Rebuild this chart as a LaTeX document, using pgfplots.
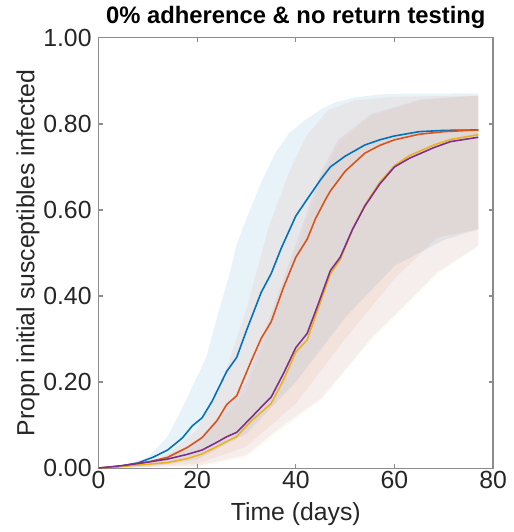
\documentclass[border=0pt]{standalone}
\usepackage{pgfplots}
\pgfplotsset{compat=1.18}
\usepgfplotslibrary{fillbetween}
\usepackage{fontspec}
\setmainfont{Liberation Sans}

\definecolor{mblue}{rgb}{0,0.447,0.741}
\definecolor{morange}{rgb}{0.85,0.325,0.098}
\definecolor{myellow}{rgb}{0.929,0.694,0.125}
\definecolor{mpurple}{rgb}{0.494,0.184,0.556}

\begin{document}
\begin{tikzpicture}
\begin{axis}[
    scale only axis, width=199pt, height=217pt,
    xmin=0, xmax=80, ymin=0, ymax=1,
    xtick={0,20,40,60,80}, ytick={0,0.2,0.4,0.6,0.8,1},
    yticklabel style={/pgf/number format/.cd, fixed, fixed zerofill, precision=2},
    /pgf/number format/assume math mode=true,
    tick align=inside, major tick length=2pt,
    axis line style={gray!90, line width=0.6pt},
    tick style={gray!90, line width=0.6pt},
    ticklabel style={font=\fontsize{12.5}{14}\selectfont, text=black!85},
    xticklabel style={yshift=2pt},
    xlabel={Time (days)}, ylabel={Propn initial susceptibles infected},
    label style={font=\fontsize{12.5}{14}\selectfont, text=black!85},
    xlabel style={yshift=0pt}, ylabel style={yshift=-5pt},
    title={\textbf{0\% adherence \& no return testing}},
    title style={font=\fontsize{12}{14}\selectfont, yshift=-5pt},
    line join=round,
]
% confidence bands
\addplot[draw=none, name path=bu] coordinates {(0,0) (5,0.006) (10,0.025) (14,0.073) (17,0.14) (19.2,0.194) (21.8,0.256) (24,0.35) (26.5,0.448) (28,0.52) (30,0.58) (33.2,0.67) (36,0.735) (38.6,0.778) (42,0.81) (45.3,0.835) (48,0.85) (52,0.862) (58.7,0.87) (77,0.871)};
\addplot[draw=none, name path=bl] coordinates {(0,0) (10,0.002) (20,0.02) (30,0.08) (40,0.2) (50,0.35) (60,0.47) (70,0.53) (77,0.555)};
\addplot[mblue, fill opacity=0.09] fill between[of=bu and bl];

\addplot[draw=none, name path=ou] coordinates {(0,0) (10,0.01) (15,0.04) (20,0.09) (25,0.2) (30,0.37) (34.6,0.563) (38.6,0.686) (42,0.77) (46.6,0.832) (52,0.855) (60,0.863) (77,0.866)};
\addplot[draw=none, name path=ol] coordinates {(0,0) (20,0.01) (30,0.05) (40,0.15) (50,0.3) (60,0.44) (68.7,0.536) (77,0.555)};
\addplot[morange, fill opacity=0.08] fill between[of=ou and ol];

\addplot[draw=none, name path=yu] coordinates {(0,0) (10,0.008) (20,0.05) (30,0.18) (35,0.34) (40,0.5) (45.3,0.68) (48.6,0.755) (55.3,0.82) (65.4,0.856) (77,0.866)};
\addplot[draw=none, name path=yl] coordinates {(0,0) (20,0.003) (30,0.025) (36,0.08) (45.3,0.16) (55.3,0.298) (61.4,0.368) (68.7,0.452) (77,0.515)};
\addplot[myellow, fill opacity=0.06] fill between[of=yu and yl];

\addplot[draw=none, name path=pu] coordinates {(0,0) (10,0.01) (20,0.06) (30,0.2) (35,0.36) (40,0.52) (45.3,0.693) (48.6,0.763) (55.3,0.823) (65.4,0.857) (77,0.866)};
\addplot[draw=none, name path=pl] coordinates {(0,0) (20,0.005) (30,0.03) (36,0.087) (45.3,0.164) (55.3,0.302) (61.4,0.371) (68.7,0.455) (77,0.517)};
\addplot[mpurple, fill opacity=0.06] fill between[of=pu and pl];

% median curves
\addplot[mblue, line width=0.8pt] coordinates {(0,0) (4,0.004) (8,0.012) (11,0.025) (14,0.042) (17,0.07) (19,0.098) (21,0.117) (23,0.155) (26,0.225) (28,0.257) (30,0.32) (33,0.409) (35,0.452) (37,0.51) (40,0.586) (42,0.62) (45,0.67) (47,0.70) (50,0.725) (54,0.751) (57,0.763) (60,0.772) (65,0.782) (70,0.785) (77,0.786)};
\addplot[morange, line width=0.8pt] coordinates {(0,0) (5,0.005) (10,0.014) (14,0.025) (18,0.048) (21,0.071) (24,0.11) (26,0.148) (28,0.168) (31,0.25) (33,0.302) (35,0.340) (37.5,0.42) (40,0.49) (42.3,0.532) (44,0.58) (46,0.624) (47,0.644) (50,0.69) (54,0.732) (57,0.75) (60,0.763) (65,0.776) (70,0.782) (77,0.786)};
\addplot[myellow, line width=0.8pt] coordinates {(0,0) (5,0.004) (10,0.009) (14,0.013) (18,0.022) (21,0.033) (24,0.05) (26,0.062) (28,0.073) (31,0.11) (33,0.13) (35,0.15) (37.5,0.205) (40,0.27) (42.3,0.298) (44.5,0.37) (47,0.451) (49,0.485) (51.5,0.555) (54,0.611) (57,0.664) (60,0.703) (63,0.726) (65.4,0.738) (68,0.751) (71.4,0.764) (77,0.775)};
\addplot[mpurple, line width=0.8pt] coordinates {(0,0) (5,0.006) (10,0.014) (14,0.021) (18,0.032) (21,0.042) (24,0.06) (26,0.073) (28,0.083) (31,0.118) (33,0.142) (35,0.165) (37.5,0.22) (40,0.28) (42.3,0.313) (44.5,0.38) (47,0.459) (49,0.49) (51.5,0.555) (54,0.609) (57,0.66) (60,0.70) (63,0.72) (65.4,0.732) (68,0.745) (71.4,0.759) (77,0.769)};
\end{axis}
% a little white margin on the left, as in the reference
\path ([xshift=-5pt]current bounding box.west);
\end{tikzpicture}
\end{document}
